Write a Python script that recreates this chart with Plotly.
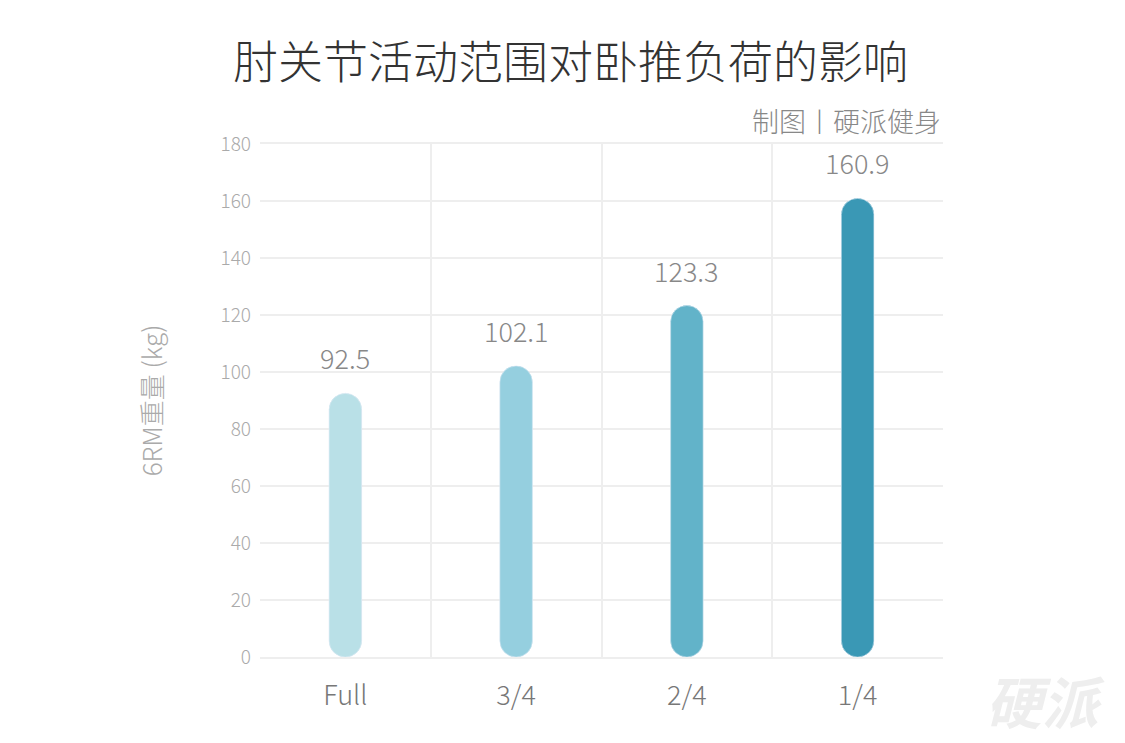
import plotly.graph_objects as go

categories = ["Full", "3/4", "2/4", "1/4"]
values = [92.5, 102.1, 123.3, 160.9]
colors = ["#b9e0e7", "#95cfdf", "#62b3c9", "#3a98b5"]

fig = go.Figure()
fig.add_trace(go.Bar(x=categories, y=values, base=0, marker=dict(color=colors, cornerradius=16),
                     width=0.19, hoverinfo="skip"))
fig.add_trace(go.Bar(x=categories, y=[-v for v in values], base=values, marker=dict(color=colors, cornerradius=16),
                     width=0.19, hoverinfo="skip"))
for c, v in zip(categories, values):
    fig.add_annotation(x=c, y=v, text=f"{v}", showarrow=False, yanchor="bottom", yshift=14,
                       font=dict(size=27, color="#888888", weight=300))

fig.update_layout(
    width=1125, height=743, barmode="overlay", showlegend=False,
    paper_bgcolor="white", plot_bgcolor="white",
    margin=dict(l=252, r=190, t=136, b=94),
    font=dict(family="Noto Sans CJK SC", weight=300),
    title=dict(text="肘关节活动范围对卧推负荷的影响", x=0.5, xanchor="center", y=0.925, yanchor="middle",
               font=dict(size=45, color="#333333", weight=300)),
    xaxis=dict(tickson="boundaries", showgrid=True, gridcolor="#eeeeee", gridwidth=2,
               tickfont=dict(size=27, color="#777777", weight=300), ticks="", showline=True, linecolor="#eeeeee",
               mirror=True, linewidth=2, ticklabelstandoff=14),
    yaxis=dict(range=[0, 180], dtick=20, showgrid=True, gridcolor="#eeeeee", gridwidth=2,
               tickfont=dict(size=19, color="#aaaaaa", weight=300), ticks="", zeroline=False,
               ticklabelstandoff=8,
               title=dict(text="6RM重量 (kg)", font=dict(size=26, color="#aaaaaa", weight=300), standoff=50)),
)
fig.add_annotation(text="制图丨硬派健身", xref="paper", yref="paper", x=1.0, y=1.0, yshift=2,
                   xanchor="right", yanchor="bottom", showarrow=False,
                   font=dict(size=27, color="#888888", weight=300))
fig.add_annotation(text="<i><b>硬派</b></i>", xref="paper", yref="paper", x=1.24, y=0.0,
                   xanchor="right", yanchor="top", showarrow=False,
                   font=dict(size=56, color="#eeeeee"))
fig.write_html("out.html")
